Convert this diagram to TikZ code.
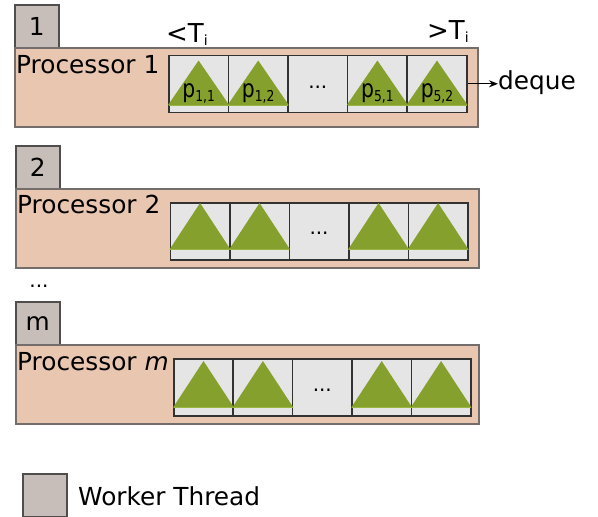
\documentclass[tikz,border=0pt]{standalone}
\usepackage{fontspec}
\setmainfont{DejaVu Sans}
\usetikzlibrary{arrows.meta,calc}
\definecolor{procfill}{RGB}{233,198,175}
\definecolor{procline}{RGB}{115,110,108}
\definecolor{workfill}{RGB}{200,190,185}
\definecolor{workline}{RGB}{80,78,76}
\definecolor{cellfill}{RGB}{229,229,229}
\definecolor{cellline}{RGB}{50,50,50}
\definecolor{trifill}{RGB}{134,160,46}
\definecolor{triline}{RGB}{152,182,64}
\newcommand\bigfont{\fontsize{24.8}{28}\selectfont}
\newcommand\psub[1]{\scalebox{0.82}[1]{p\raisebox{-4pt}{\fontsize{15}{15}\selectfont #1}}}
\begin{document}
\begin{tikzpicture}[x=1pt,y=-1pt,
  proc/.style={draw=procline, fill=procfill, line width=1.6pt, rectangle, inner sep=0pt, anchor=north west, minimum width=463pt, minimum height=79pt},
  worker/.style={draw=workline, fill=workfill, line width=1.6pt, rectangle, inner sep=0pt, anchor=north west, minimum width=44pt, minimum height=43pt, font=\bigfont},
  cellbox/.style={draw=cellline, fill=cellfill, line width=1.6pt, rectangle, inner sep=0pt, anchor=north west, minimum height=57pt},
  lbl/.style={anchor=base west, inner sep=0pt, font=\bigfont},
  dots/.style={inner sep=0pt, anchor=base, font=\fontsize{20}{20}\selectfont},
  plabel/.style={anchor=base, inner sep=0pt, font=\bigfont}
]
\useasboundingbox (0,0) rectangle (598,517);

% ---------- block 1 ----------
\node[worker] (W1) at (14,4) {1};
\node[proc] (P1) at (14,47) {};
\node[lbl] (L1) at (16,73) {Processor 1};
\foreach \i in {1,...,5} {
  \node[cellbox, minimum width=59.6pt] (a\i) at ({168+(\i-1)*59.6},54.5) {};
}
\foreach \i in {1,2,4,5} {
  \fill[trifill] ($(a\i.south west)+(0,-8)$) -- ($(a\i.south east)+(0,-8)$) -- ($(a\i.north)+(0,6)$) -- cycle;
  \draw[triline, line width=1pt] ($(a\i.south west)+(0.8,-8)$) -- ($(a\i.south east)+(-0.8,-8)$);
}
\node[plabel] (pa1) at ($(a1.north)+(0,43)$) {\psub{1,1}};
\node[plabel] (pa2) at ($(a2.north)+(0,43)$) {\psub{1,2}};
\node[plabel] (pa4) at ($(a4.north)+(0,43)$) {\psub{5,1}};
\node[plabel] (pa5) at ($(a5.north)+(0,43)$) {\psub{5,2}};
\node[dots] (da) at ($(a3.center)+(0,5)$) {...};
\node[anchor=base west, inner sep=0pt, font=\fontsize{26}{28}\selectfont] (lt) at (166,42) {<T\raisebox{-3pt}{\fontsize{14}{14}\selectfont i}};
\node[anchor=base west, inner sep=0pt, font=\fontsize{26}{28}\selectfont] (gt) at (427,39) {>T\raisebox{-3pt}{\fontsize{14}{14}\selectfont i}};
\node[lbl] (deque) at (498,89) {deque};
\draw[line width=1.1pt, -{Stealth[length=9pt,width=7pt]}] (a5.east) -- (a5.east -| deque.west);

% ---------- block 2 ----------
\node[worker] (W2) at (15,145) {2};
\node[proc] (P2) at (15,188) {};
\node[lbl] (L2) at (17,213) {Processor 2};
\foreach \i in {1,...,5} {
  \node[cellbox, minimum width=59.5pt] (b\i) at ({169.5+(\i-1)*59.5},202) {};
}
\foreach \i in {1,2,4,5} {
  \fill[trifill] ($(b\i.south west)+(0,-11)$) -- ($(b\i.south east)+(0,-11)$) -- ($(b\i.north)+(0,1)$) -- cycle;
  \draw[triline, line width=1pt] ($(b\i.south west)+(0.8,-11)$) -- ($(b\i.south east)+(-0.8,-11)$);
}
\node[dots] (db) at ($(b3.center)+(0,3)$) {...};

% ---------- between ----------
\node[dots] (mid) at (39,287) {...};

% ---------- block m ----------
\node[worker] (W3) at (15,301) {m};
\node[proc] (P3) at (15,344) {};
\node[lbl] (L3) at (17,370) {Processor \textit{m}};
\foreach \i in {1,...,5} {
  \node[cellbox, minimum width=59.4pt] (c\i) at ({173+(\i-1)*59.4},358) {};
}
\foreach \i in {1,2,4,5} {
  \fill[trifill] ($(c\i.south west)+(0,-9)$) -- ($(c\i.south east)+(0,-9)$) -- ($(c\i.north)+(0,3)$) -- cycle;
  \draw[triline, line width=1pt] ($(c\i.south west)+(0.8,-9)$) -- ($(c\i.south east)+(-0.8,-9)$);
}
\node[dots] (dc) at ($(c3.center)+(0,4)$) {...};

% ---------- legend ----------
\node[worker] (LW) at (22,473) {};
\node[lbl] (LT) at (78,505) {Worker Thread};
\end{tikzpicture}
\end{document}
